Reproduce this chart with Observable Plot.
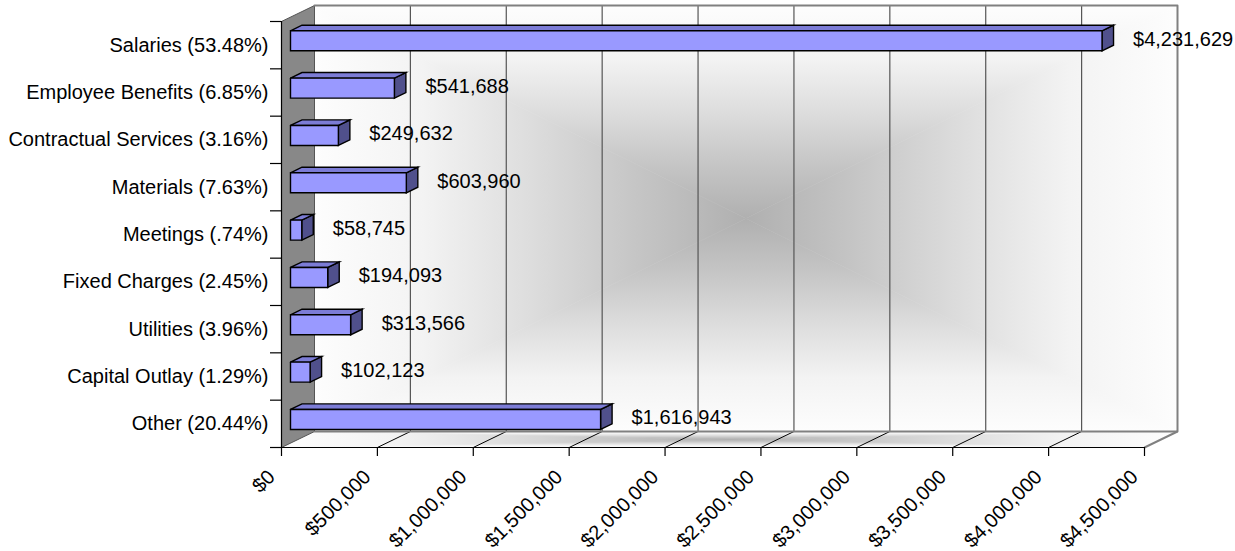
<!DOCTYPE html>
<html><head><meta charset="utf-8">
<script src="https://cdn.jsdelivr.net/npm/d3@7"></script>
<script src="https://cdn.jsdelivr.net/npm/@observablehq/plot@0.6"></script>
<style>body{margin:0;background:#fff;} #chart svg{display:block}</style>
</head><body>
<svg width="0" height="0" style="position:absolute;left:0;top:0">
<defs>
<linearGradient id="gT" x1="0" y1="0" x2="0" y2="1"><stop offset="0" stop-color="#fdfdfd"/><stop offset="0.25" stop-color="#f3f3f3"/><stop offset="0.5" stop-color="#dddddd"/><stop offset="0.75" stop-color="#c5c5c5"/><stop offset="1" stop-color="#b0b0b0"/></linearGradient>
<linearGradient id="gB" x1="0" y1="1" x2="0" y2="0"><stop offset="0" stop-color="#fdfdfd"/><stop offset="0.25" stop-color="#f3f3f3"/><stop offset="0.5" stop-color="#dddddd"/><stop offset="0.75" stop-color="#c5c5c5"/><stop offset="1" stop-color="#b0b0b0"/></linearGradient>
<linearGradient id="gL" x1="0" y1="0" x2="1" y2="0"><stop offset="0" stop-color="#fdfdfd"/><stop offset="0.25" stop-color="#f3f3f3"/><stop offset="0.5" stop-color="#dddddd"/><stop offset="0.75" stop-color="#c5c5c5"/><stop offset="1" stop-color="#b0b0b0"/></linearGradient>
<linearGradient id="gR" x1="1" y1="0" x2="0" y2="0"><stop offset="0" stop-color="#fdfdfd"/><stop offset="0.25" stop-color="#f3f3f3"/><stop offset="0.5" stop-color="#dddddd"/><stop offset="0.75" stop-color="#c5c5c5"/><stop offset="1" stop-color="#b0b0b0"/></linearGradient>
</defs></svg>
<div id="chart"></div>
<script>
const categories = ["Salaries (53.48%)", "Employee Benefits (6.85%)", "Contractual Services (3.16%)", "Materials (7.63%)", "Meetings (.74%)", "Fixed Charges (2.45%)", "Utilities (3.96%)", "Capital Outlay (1.29%)", "Other (20.44%)"];
const values = [4231629, 541688, 249632, 603960, 58745, 194093, 313566, 102123, 1616943];
const xTicks = [0, 500000, 1000000, 1500000, 2000000, 2500000, 3000000, 3500000, 4000000, 4500000];
const xTickLabels = ["$0", "$500,000", "$1,000,000", "$1,500,000", "$2,000,000", "$2,500,000", "$3,000,000", "$3,500,000", "$4,000,000", "$4,500,000"];

const W = 1235, H = 551;
const mL = 281, mR = 91, mT = 21, mB = 104;
const XMAX = xTicks[xTicks.length - 1], N = categories.length;
const PX = XMAX / (W - mL - mR);   // data units per pixel (x)
const PY = N / (H - mT - mB);      // data units per pixel (y)
const DX = 33 * PX, DY = -16 * PY; // full depth
const T1 = 9 / 33, T2 = 20.5 / 33; // bar depth extent
const BH = 0.2113;                 // half bar height (band units)
const FONT = "Arial, 'Liberation Sans', sans-serif";
const FS = 20;

const rows = categories.map((c, i) => ({c, v: values[i], i}));
const poly = (id, pts) => pts.concat([pts[0]]).map(([x, y]) => ({id, x, y}));

const fronts = rows.flatMap(d => {
  const yt = d.i + 0.5 - BH, yb = d.i + 0.5 + BH;
  return poly(d.c, [[T1*DX, yt+T1*DY], [d.v+T1*DX, yt+T1*DY], [d.v+T1*DX, yb+T1*DY], [T1*DX, yb+T1*DY]]);
});
const tops = rows.flatMap(d => {
  const yt = d.i + 0.5 - BH;
  return poly(d.c, [[T1*DX, yt+T1*DY], [d.v+T1*DX, yt+T1*DY], [d.v+T2*DX, yt+T2*DY], [T2*DX, yt+T2*DY]]);
});
const sides = rows.flatMap(d => {
  const yt = d.i + 0.5 - BH, yb = d.i + 0.5 + BH;
  return poly(d.c, [[d.v+T1*DX, yt+T1*DY], [d.v+T2*DX, yt+T2*DY], [d.v+T2*DX, yb+T2*DY], [d.v+T1*DX, yb+T1*DY]]);
});

// back wall
const bTL = [DX, DY], bTR = [XMAX+DX, DY], bBR = [XMAX+DX, N+DY], bBL = [DX, N+DY], bC = [XMAX/2+DX, N/2+DY];
// floor
const fFL = [0, N], fFR = [XMAX, N], fC = [XMAX/2 + DX/2, N + DY/2];

const tri = (pts, fill) => Plot.line(poly("t", pts), {x: "x", y: "y", z: "id", fill, stroke: fill, strokeWidth: 0.6, curve: "linear"});
const faces = (data, fill) => Plot.line(data, {x: "x", y: "y", z: "id", fill, stroke: "#000", strokeWidth: 1.4, strokeLinejoin: "miter", strokeMiterlimit: 10, curve: "linear"});

const chart = Plot.plot({
  width: W, height: H,
  marginLeft: mL, marginRight: mR, marginTop: mT, marginBottom: mB,
  x: {domain: [0, XMAX], axis: null},
  y: {domain: [0, N], reverse: true, axis: null},
  style: {background: "white", fontFamily: FONT, overflow: "visible"},
  marks: [
    // back wall "from center" gradient
    tri([bTL, bTR, bC], "url(#gT)"),
    tri([bBR, bBL, bC], "url(#gB)"),
    tri([bBL, bTL, bC], "url(#gL)"),
    tri([bTR, bBR, bC], "url(#gR)"),
    // floor
    tri([bBL, bBR, fC], "url(#gT)"),
    tri([fFR, fFL, fC], "url(#gB)"),
    tri([fFL, bBL, fC], "url(#gL)"),
    tri([bBR, fFR, fC], "url(#gR)"),
    // left side wall
    Plot.line(poly("lw", [[0, 0], [DX, DY], [DX, N+DY], [0, N]]), {x: "x", y: "y", z: "id", fill: "#888888", stroke: "#555", strokeWidth: 1, curve: "linear"}),
    // back wall gridlines
    Plot.ruleX(xTicks.slice(1, -1), {x: d => d + DX, y1: DY, y2: N + DY, stroke: "#555", strokeWidth: 1.2}),
    // floor gridlines
    Plot.link(xTicks.slice(1, -1), {x1: d => d, y1: N, x2: d => d + DX, y2: N + DY, stroke: "#000", strokeWidth: 1}),
    // wall borders
    Plot.line([bTL, bTR, bBR, bBL].map(([x, y]) => ({x, y})), {x: "x", y: "y", stroke: "#808080", strokeWidth: 2, curve: "linear"}),
    Plot.link([0], {x1: XMAX, y1: N, x2: XMAX + DX, y2: N + DY, stroke: "#808080", strokeWidth: 2}),
    // axes
    Plot.ruleY([N], {x1: 0, x2: XMAX, stroke: "#000", strokeWidth: 1.2}),
    Plot.ruleX([0], {y1: 0, y2: N, stroke: "#000", strokeWidth: 1.2}),
    Plot.ruleX(xTicks, {x: d => d, y1: N, y2: N + 9 * PY, stroke: "#000", strokeWidth: 1.2}),
    Plot.ruleY(d3.range(N + 1), {y: d => d, x1: -11 * PX, x2: 0, stroke: "#000", strokeWidth: 1.2}),
    // bars
    faces(sides, "#50508c"),
    faces(tops, "#7c7cd6"),
    faces(fronts, "#9999ff"),
    // labels
    Plot.text(rows, {x: () => 0, y: d => d.i + 0.5, text: "c", textAnchor: "end", dx: -13, fontSize: FS, fontFamily: FONT, fill: "#000"}),
    Plot.text(rows, {x: "v", y: d => d.i + 0.5, text: d => d3.format("$,")(d.v), textAnchor: "start", dx: 40, dy: -6, fontSize: FS, fontFamily: FONT, fill: "#000"}),
    Plot.text(xTicks, {x: d => d, y: () => N, text: (d, i) => xTickLabels[i], rotate: -45, textAnchor: "end", dx: -10, dy: 26, fontSize: FS, fontFamily: FONT, fill: "#000"})
  ]
});
document.getElementById("chart").appendChild(chart);
</script>
</body></html>
